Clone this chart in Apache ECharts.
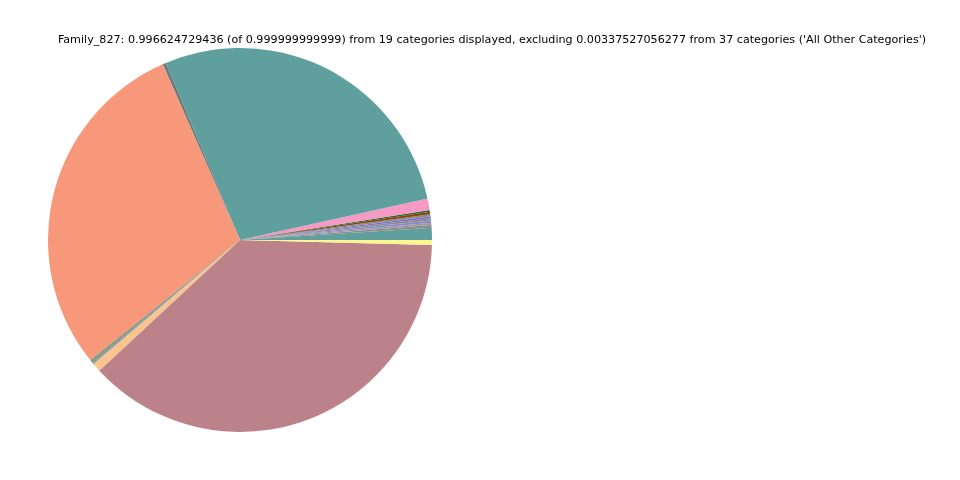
<!DOCTYPE html>
<html><head><meta charset="utf-8">
<script src="https://cdn.jsdelivr.net/npm/echarts@6/dist/echarts.min.js"></script>
<style>html,body{margin:0;padding:0;background:#fff}#c{width:960px;height:480px}</style>
</head><body><div id="c"></div>
<script>
const titleText = "Family_827: 0.996624729436 (of 0.999999999999) from 19 categories displayed, excluding 0.00337527056277 from 37 categories ('All Other Categories')";
const categories = ["Cat_01","Cat_02","Cat_03","Cat_04","Cat_05","Cat_06","Cat_07","Cat_08","Cat_09","Cat_10","Cat_11","Cat_12","Cat_13","Cat_14","Cat_15","Cat_16","Cat_17","Cat_18","Cat_19"];
const values = [0.0102,0.0022,0.0020,0.0017,0.0020,0.0014,0.0020,0.0020,0.0014,0.0097,0.2786,0.0028,0.2919,0.0017,0.0014,0.0011,0.0072,0.3767,0.0042];
const colors = ["#5fa09e","#8c8c8c","#9a9aa6","#8a88c8","#8a9090","#7a6ad0","#8c8c94","#8b4513","#2e6b2e","#f59ac4","#5fa09e","#6b7b7b","#f8987a","#7a9a7a","#888888","#8fa0a0","#fbc48e","#bc828a","#fff68f"];
const chart = echarts.init(document.getElementById('c'));
chart.setOption({
  animation:false,
  graphic:[{type:'text',x:492,y:35,style:{text:titleText,font:'11.15px "DejaVu Sans"',fill:'#000',textAlign:'center',textVerticalAlign:'top'}}],
  series:[{
    type:'pie',center:[240,240],radius:192,startAngle:0,clockwise:false,
    label:{show:false},labelLine:{show:false},
    itemStyle:{borderWidth:0},
    emphasis:{disabled:true},
    data:categories.map((n,i)=>({name:n,value:values[i],itemStyle:{color:colors[i]}}))
  }]
});
</script></body></html>
